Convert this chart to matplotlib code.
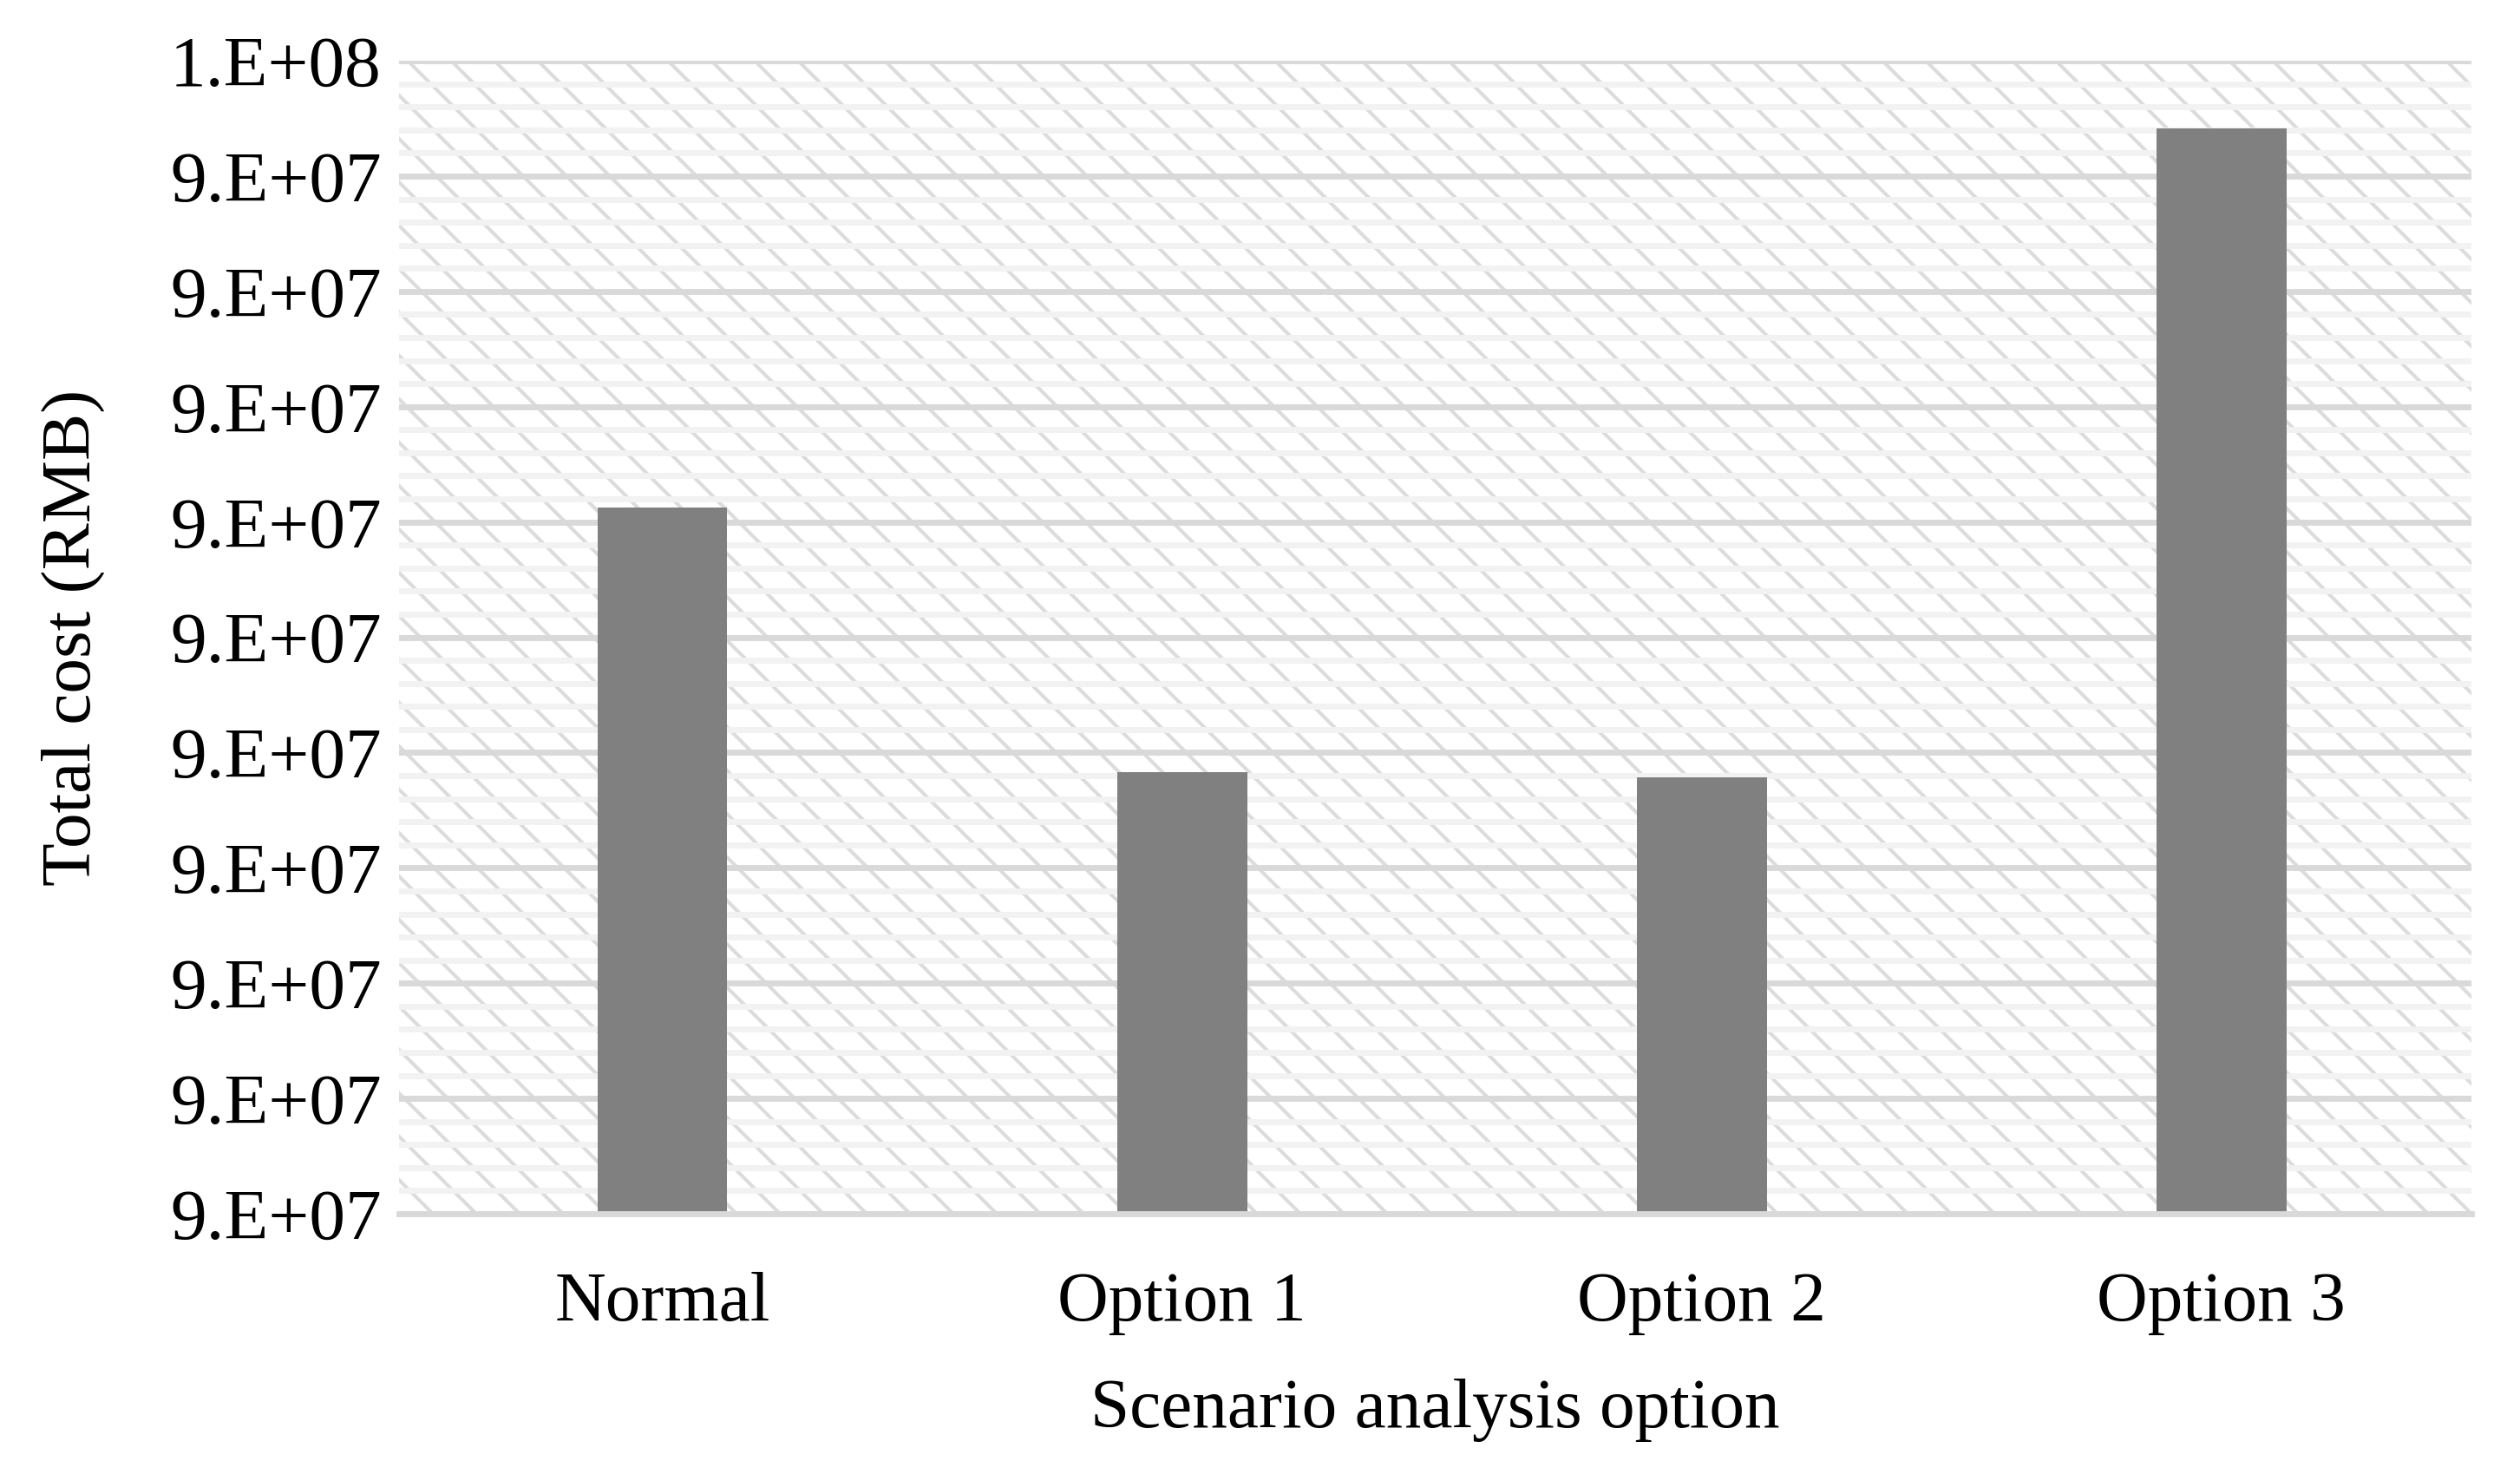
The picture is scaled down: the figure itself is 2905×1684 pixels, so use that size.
import numpy as np
import matplotlib
matplotlib.use("Agg")
import matplotlib.pyplot as plt
from matplotlib.ticker import MultipleLocator, FuncFormatter
from matplotlib.patches import Rectangle

plt.rcParams['font.family'] = ['Liberation Serif', 'DejaVu Serif']
plt.rcParams['hatch.linewidth'] = 2.0

# data
options = ['Normal', 'Option 1', 'Option 2', 'Option 3']
total_cost = [94612800, 94383000, 94378800, 94941500]

y_min, y_max = 94000000, 95000000
major_step = 100000
minor_step = 20000


def excel_sci(v, pos):
    # mimic Excel "0.E+00" number format
    if v <= 0:
        return '0.E+00'
    e = int(np.floor(np.log10(v)))
    m = int(v / 10 ** e + 0.5 + 1e-9)
    if m == 10:
        m = 1
        e += 1
    return f'{m}.E+{e:02d}'


fig = plt.figure(figsize=(2905 / 150, 1684 / 150), dpi=150)
ax = fig.add_axes([0.1585, 0.1692, 0.8222, 0.7892])

# hatched plot-area background
bg = Rectangle((0, 0), 1, 1, transform=ax.transAxes, facecolor='white',
               edgecolor='#dcdcdc', hatch='\\', linewidth=0, zorder=0.1)
ax.add_patch(bg)

x = np.arange(len(options))
ax.bar(x, total_cost, width=0.25, color='#808080', zorder=3)

ax.set_ylim(y_min, y_max)
ax.set_xlim(-0.506, 3.481)
ax.yaxis.set_major_locator(MultipleLocator(major_step))
ax.yaxis.set_minor_locator(MultipleLocator(minor_step))
ax.yaxis.set_major_formatter(FuncFormatter(excel_sci))
ax.set_axisbelow(True)
ax.grid(which='major', axis='y', color='#d9d9d9', linewidth=3.3, zorder=0.5)
ax.grid(which='minor', axis='y', color='#f2f2f2', linewidth=3.3, zorder=0.4)

ax.set_xticks(x)
ax.set_xticklabels(options)

for s in ['top', 'right', 'left']:
    ax.spines[s].set_visible(False)
ax.spines['bottom'].set_color('#d9d9d9')
ax.spines['bottom'].set_linewidth(3.3)
ax.spines['bottom'].set_zorder(4)

ax.tick_params(axis='both', which='both', length=0)
ax.tick_params(axis='y', pad=10, labelsize=40)
ax.tick_params(axis='x', pad=32, labelsize=39)

ax.set_xlabel('Scenario analysis option', fontsize=39, labelpad=24)
ax.set_ylabel('Total cost (RMB)', fontsize=39, labelpad=36)

fig.savefig('out.png', dpi=150, facecolor='white')
